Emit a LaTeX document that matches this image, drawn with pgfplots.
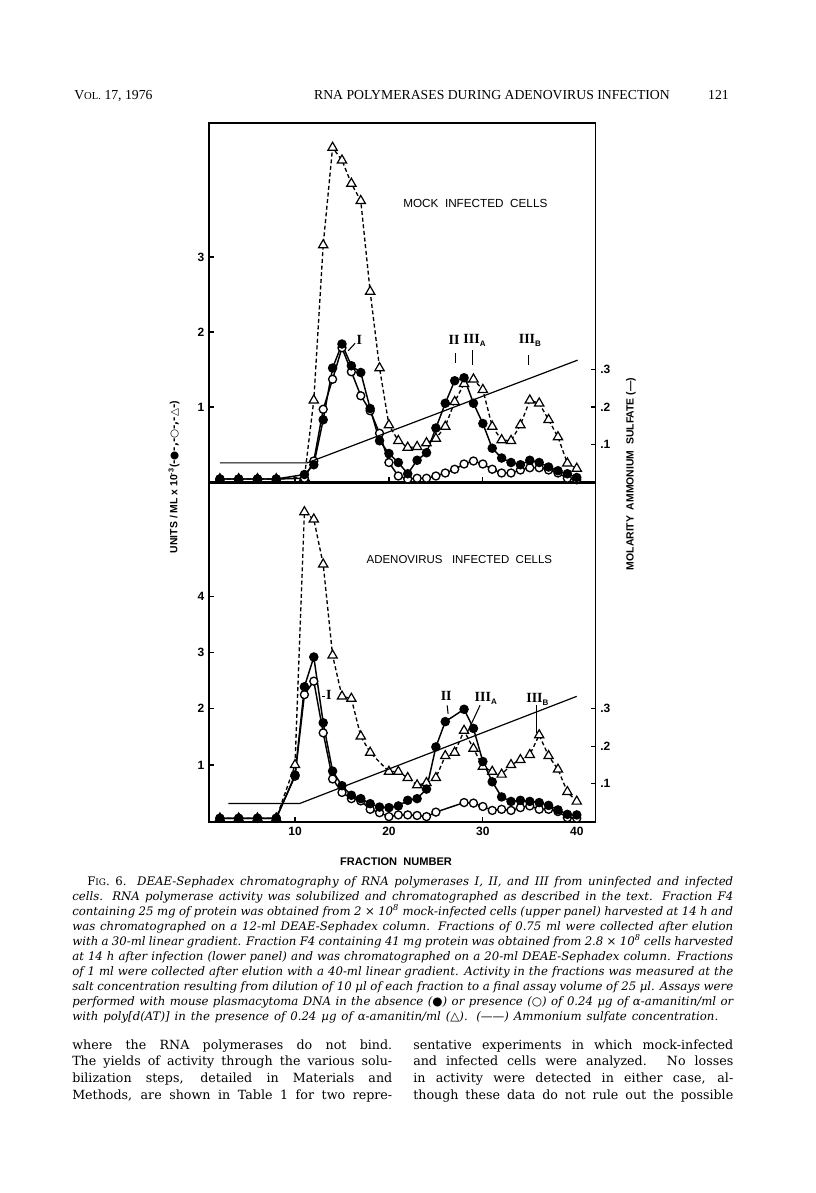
\documentclass[border=0pt]{standalone}
\usepackage{fontspec}
\setmainfont{Liberation Serif}
\newfontfamily\lsans{Liberation Sans}
\newfontfamily\dserif{DejaVu Serif}
\newfontfamily\dsym{DejaVu Sans}
\usepackage{pgfplots}
\usepackage{pgfplotstable}
\pgfplotsset{compat=1.18}

% ---------- upper panel (mock infected) ----------
\pgfplotstableread{
x y
2 0.04
4 0.04
6 0.04
8 0.04
11 0.10
12 0.23
13 0.83
14 1.52
15 1.84
16 1.55
17 1.46
18 0.98
19 0.55
20 0.38
21 0.26
22 0.11
23 0.29
24 0.39
25 0.72
26 1.05
27 1.35
28 1.39
29 1.05
30 0.78
31 0.45
32 0.32
33 0.26
34 0.23
35 0.29
36 0.26
37 0.20
38 0.15
39 0.11
40 0.06
}\upFilled
\pgfplotstableread{
x y
2 0.04
4 0.04
6 0.04
8 0.04
11 0.05
12 0.28
13 0.97
14 1.37
15 1.79
16 1.47
17 1.15
18 0.95
19 0.65
20 0.26
21 0.08
22 0.04
23 0.05
24 0.05
25 0.08
26 0.12
27 0.17
28 0.24
29 0.28
30 0.24
31 0.17
32 0.12
33 0.12
34 0.16
35 0.19
36 0.19
37 0.16
38 0.12
39 0.05
40 0.03
}\upOpen
\pgfplotstableread{
x y
2 0.04
4 0.04
6 0.04
8 0.04
11 0.06
12 1.09
13 3.16
14 4.46
15 4.29
16 3.98
17 3.75
18 2.54
19 1.52
20 0.76
21 0.55
22 0.46
23 0.47
24 0.52
25 0.58
26 0.74
27 1.07
28 1.31
29 1.37
30 1.23
31 0.74
32 0.56
33 0.55
34 0.76
35 1.09
36 1.05
37 0.83
38 0.60
39 0.25
40 0.18
}\upTri
% ---------- lower panel (adenovirus infected) ----------
\pgfplotstableread{
x y
2 0.05
4 0.05
6 0.05
8 0.05
10 0.82
11 2.39
12 2.92
13 1.75
14 0.89
15 0.63
16 0.46
17 0.40
18 0.31
19 0.25
20 0.24
21 0.27
22 0.37
23 0.40
24 0.57
25 1.32
26 1.77
28 1.99
29 1.65
30 1.06
31 0.70
32 0.43
33 0.35
34 0.37
35 0.35
36 0.33
37 0.28
38 0.20
39 0.12
40 0.11
}\loFilled
\pgfplotstableread{
x y
2 0.05
4 0.05
6 0.05
8 0.05
10 0.80
11 2.25
12 2.49
13 1.57
14 0.75
15 0.51
16 0.40
17 0.36
18 0.21
19 0.15
20 0.08
21 0.11
22 0.11
23 0.10
24 0.08
25 0.16
28 0.33
29 0.32
30 0.26
31 0.19
32 0.21
33 0.19
34 0.24
35 0.27
36 0.21
37 0.21
38 0.17
39 0.06
40 0.05
}\loOpen
\pgfplotstableread{
x y
2 0.05
4 0.05
6 0.05
8 0.05
10 1.00
11 5.50
12 5.37
13 4.57
14 2.95
15 2.22
16 2.18
17 1.51
18 1.22
20 0.88
21 0.88
22 0.77
23 0.64
24 0.68
25 0.77
26 1.16
27 1.22
28 1.61
29 1.29
30 0.97
31 0.88
32 0.83
33 1.00
34 1.09
35 1.18
36 1.53
37 1.16
38 0.92
39 0.52
40 0.35
}\loTri

\pgfplotsset{
  panel/.style={scale only axis, width=289.9pt, xmin=0.84, xmax=42.0,
    tick align=inside, xtick={10,20,30,40}, xtick pos=bottom, ytick pos=left,
    major tick length=3.5pt, axis line style={line width=1pt},
    tick style={line width=0.9pt, black},
    tick label style={font=\lsans\bfseries\fontsize{9}{10}\selectfont},
    /pgf/number format/assume math mode=true, clip=false},
  rpanel/.style={scale only axis, width=289.9pt, xmin=0.84, xmax=42.0,
    axis x line=none, axis y line*=right, tick align=inside,
    ytick={0.1,0.2,0.3}, yticklabels={.1,.2,.3},
    major tick length=3.5pt, axis line style={line width=1pt},
    tick style={line width=0.9pt, black},
    tick label style={font=\lsans\bfseries\fontsize{9}{10}\selectfont},
    /pgf/number format/assume math mode=true, clip=false},
  filled/.style={black, line width=1.1pt, mark=*, mark size=3pt, mark options={fill=black, solid}},
  open/.style={black, line width=1.1pt, mark=*, mark size=3pt, mark options={fill=white, solid, line width=1pt}},
  tri/.style={black, line width=1pt, dash pattern=on 3pt off 2pt, mark=triangle*, mark size=4pt, mark options={fill=white, solid, line width=0.9pt}},
}
\newcommand\rn[2]{\textbf{#1}\rlap{\raisebox{-2pt}{\lsans\bfseries\fontsize{6}{7}\selectfont #2}}}

\begin{document}
\begin{tikzpicture}[x=0.75pt,y=0.75pt]

% header
\node[anchor=base west, inner sep=0pt, font=\fontsize{10.3}{12}\selectfont] at (74,-99) {V{\fontsize{8}{10}\selectfont OL.} 17, 1976};
\node[anchor=base, inner sep=0pt, font=\fontsize{10.3}{12}\selectfont] at (492,-99) {RNA POLYMERASES DURING ADENOVIRUS INFECTION};
\node[anchor=base east, inner sep=0pt, font=\fontsize{10.3}{12}\selectfont] at (729,-99) {121};

% ---------------- upper panel ----------------
\begin{axis}[panel, at={(156.75pt,-361.5pt)}, anchor=south west, height=269.25pt,
  ymin=0, ymax=4.787, ytick={1,2,3}, xticklabels={}]
\addplot[tri] table {\upTri};
\addplot[open] table {\upOpen};
\addplot[filled] table {\upFilled};
\node[font=\lsans\fontsize{8.8}{10}\selectfont] at (axis cs:29.2,3.72) {MOCK\ \ INFECTED\ \ CELLS};
\draw[line width=0.8pt] (axis cs:15.66,1.75) -- (axis cs:16.4,1.85);
\node[font=\fontsize{10.5}{12}\selectfont] at (axis cs:16.85,1.89) {\textbf{I}};
\node[font=\fontsize{10.5}{12}\selectfont] at (axis cs:26.93,1.89) {\textbf{II}};
\draw[line width=0.8pt] (axis cs:27.04,1.716) -- (axis cs:27.04,1.583);
\node[font=\fontsize{10.5}{12}\selectfont] at (axis cs:28.8,1.89) {\rn{III}{A}};
\draw[line width=0.8pt] (axis cs:28.9,1.76) -- (axis cs:28.9,1.56);
\node[font=\fontsize{10.5}{12}\selectfont] at (axis cs:34.7,1.89) {\rn{III}{B}};
\draw[line width=0.8pt] (axis cs:34.85,1.69) -- (axis cs:34.85,1.56);
\end{axis}
\begin{axis}[rpanel, at={(156.75pt,-361.5pt)}, anchor=south west, height=269.25pt,
  ymin=0, ymax=0.9573]
\addplot[black, line width=0.9pt] coordinates {(2.0,0.051) (11.3,0.051) (40.1,0.325)};
\end{axis}

% ---------------- lower panel ----------------
\begin{axis}[panel, at={(156.75pt,-616.5pt)}, anchor=south west, height=254.25pt,
  ymin=-0.016, ymax=6.016, ytick={1,2,3,4}]
\addplot[tri] table {\loTri};
\addplot[open] table {\loOpen};
\addplot[filled] table {\loFilled};
\node[font=\lsans\fontsize{8.6}{10}\selectfont] at (axis cs:27.5,4.66) {ADENOVIRUS\ \ \ INFECTED\ \ CELLS};
\draw[line width=0.8pt] (axis cs:12.84,2.21) -- (axis cs:13.2,2.21);
\node[font=\fontsize{10.5}{12}\selectfont] at (axis cs:13.6,2.24) {\textbf{I}};
\node[font=\fontsize{10.5}{12}\selectfont] at (axis cs:26.1,2.22) {\textbf{II}};
\draw[line width=0.8pt] (axis cs:26.2,2.06) -- (axis cs:26.3,1.91);
\node[font=\fontsize{10.5}{12}\selectfont] at (axis cs:30.0,2.18) {\rn{III}{A}};
\draw[line width=0.8pt] (axis cs:29.7,2.06) -- (axis cs:28.3,1.56);
\node[font=\fontsize{10.5}{12}\selectfont] at (axis cs:35.5,2.17) {\rn{III}{B}};
\draw[line width=0.8pt] (axis cs:35.7,2.06) -- (axis cs:35.7,1.56);
\end{axis}
\begin{axis}[rpanel, at={(156.75pt,-616.5pt)}, anchor=south west, height=254.25pt,
  ymin=-0.0024, ymax=0.9024]
\addplot[black, line width=0.9pt] coordinates {(2.9,0.047) (10.5,0.047) (40.0,0.333)};
\end{axis}

% axis titles
\node[rotate=90, font=\lsans\bfseries\fontsize{7.8}{9}\selectfont] at (174,-477)
  {UNITS / ML x 10\textsuperscript{-3}({\dsym -●-,-○-,-△-})};
\node[rotate=90, font=\lsans\bfseries\fontsize{7.8}{9}\selectfont] at (631,-474)
  {MOLARITY\ \ AMMONIUM\ \ SULFATE (—)};
\node[font=\lsans\bfseries\fontsize{8.3}{10}\selectfont] at (396,-862) {FRACTION\ \ NUMBER};

% caption
\node[anchor=base west, inner sep=0pt] at (72,-885) {\parbox[t]{495.75pt}{%
\dserif\itshape\fontsize{8.8}{11.33}\selectfont\parindent=0pt
\noindent\hspace*{11.25pt}\makebox[484.5pt][s]{{\upshape F{\fontsize{6.7}{8}\selectfont IG}. 6.} DEAE-Sephadex chromatography of RNA polymerases I, II, and III from uninfected and infected}\par
\noindent\makebox[\linewidth][s]{cells. RNA polymerase activity was solubilized and chromatographed as described in the text. Fraction F4}\par
\noindent\makebox[\linewidth][s]{containing 25 mg of protein was obtained from 2 × 10\textsuperscript{8} mock-infected cells (upper panel) harvested at 14 h and}\par
\noindent\makebox[\linewidth][s]{was chromatographed on a 12-ml DEAE-Sephadex column. Fractions of 0.75 ml were collected after elution}\par
\noindent\makebox[\linewidth][s]{with a 30-ml linear gradient. Fraction F4 containing 41 mg protein was obtained from 2.8 × 10\textsuperscript{8} cells harvested}\par
\noindent\makebox[\linewidth][s]{at 14 h after infection (lower panel) and was chromatographed on a 20-ml DEAE-Sephadex column. Fractions}\par
\noindent\makebox[\linewidth][s]{of 1 ml were collected after elution with a 40-ml linear gradient. Activity in the fractions was measured at the}\par
\noindent\makebox[\linewidth][s]{salt concentration resulting from dilution of 10 µl of each fraction to a final assay volume of 25 µl. Assays were}\par
\noindent\makebox[\linewidth][s]{performed with mouse plasmacytoma DNA in the absence ({\dsym ●}) or presence ({\dsym ○}) of 0.24 µg of α-amanitin/ml or}\par
\noindent\makebox[484.5pt][s]{with poly[d(AT)] in the presence of 0.24 µg of α-amanitin/ml ({\dsym △}). (——) Ammonium sulfate concentration.}\par}};

% body text
\node[anchor=base west, inner sep=0pt] at (72,-1049) {\parbox[t]{240pt}{%
\dserif\fontsize{9.5}{12.5}\selectfont\parindent=0pt
\noindent\makebox[\linewidth][s]{where the RNA polymerases do not bind.}\par
\noindent\makebox[\linewidth][s]{The yields of activity through the various solu-}\par
\noindent\makebox[\linewidth][s]{bilization steps, detailed in Materials and}\par
\noindent\makebox[\linewidth][s]{Methods, are shown in Table 1 for two repre-}\par}};
\node[anchor=base west, inner sep=0pt] at (413,-1049) {\parbox[t]{240pt}{%
\dserif\fontsize{9.5}{12.5}\selectfont\parindent=0pt
\noindent\makebox[\linewidth][s]{sentative experiments in which mock-infected}\par
\noindent\makebox[\linewidth][s]{and infected cells were analyzed. No losses}\par
\noindent\makebox[\linewidth][s]{in activity were detected in either case, al-}\par
\noindent\makebox[\linewidth][s]{though these data do not rule out the possible}\par}};

\pgfresetboundingbox
\path[use as bounding box] (0,0) rectangle (816,-1193);
\end{tikzpicture}
\end{document}
